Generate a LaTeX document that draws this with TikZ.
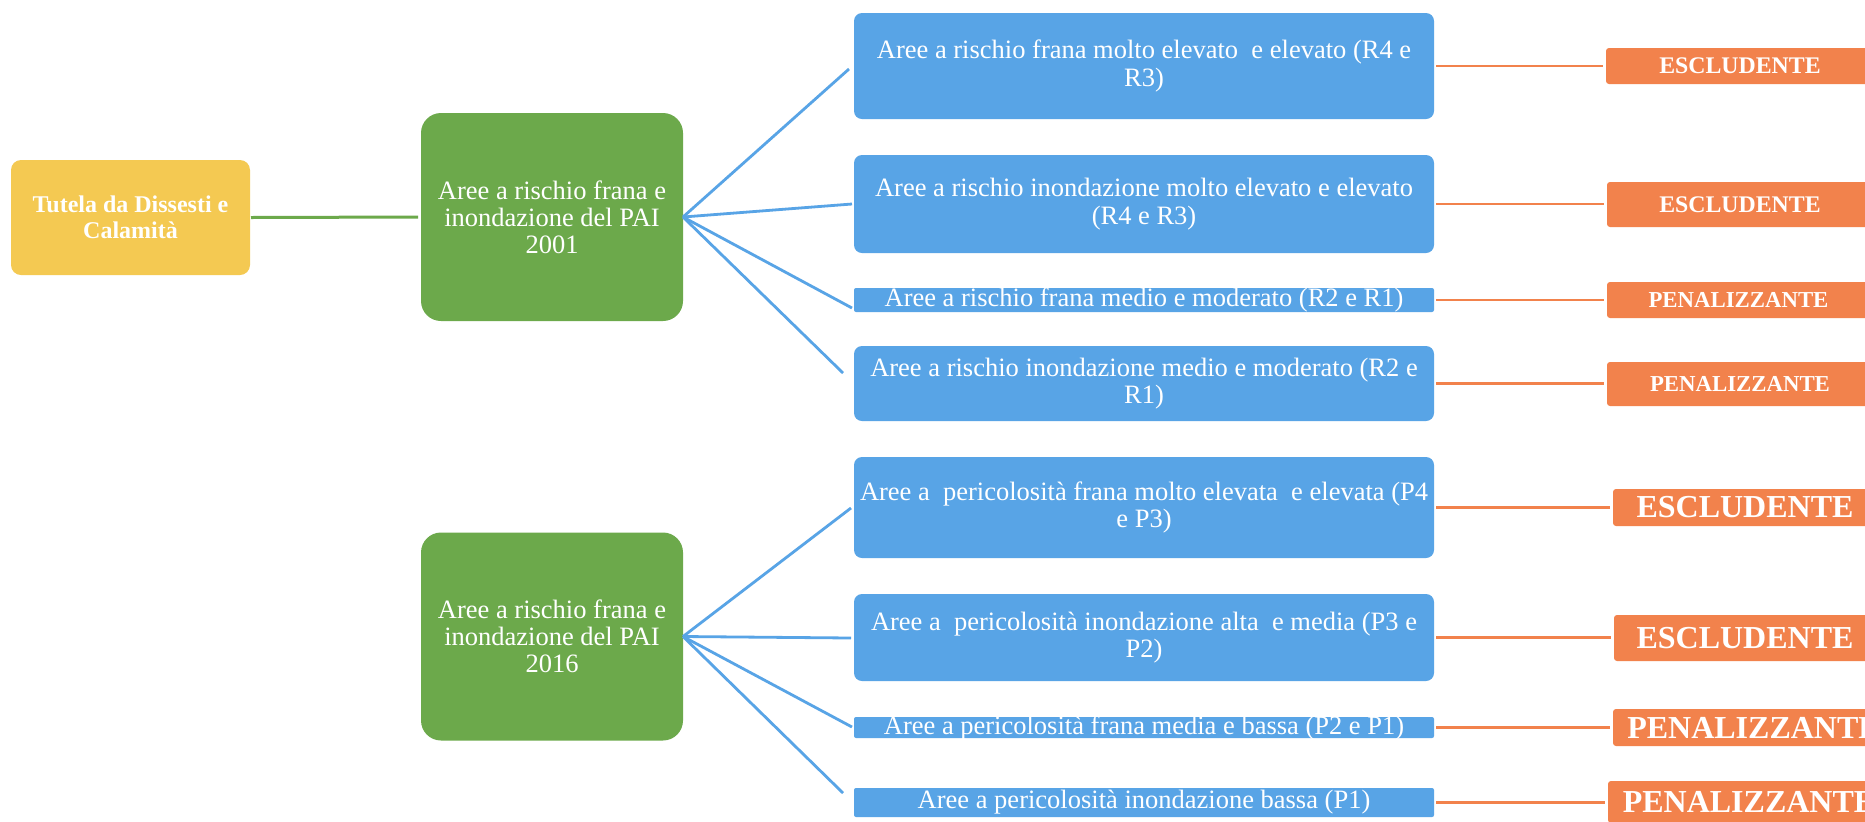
\documentclass[tikz,border=0pt]{standalone}
\usepackage{fontspec}
\setmainfont{Liberation Serif}
\definecolor{cyel}{HTML}{F4C952}
\definecolor{cgreen}{HTML}{6CA94B}
\definecolor{cblue}{HTML}{58A4E6}
\definecolor{corange}{HTML}{F2824C}
\begin{document}
\begin{tikzpicture}[x=0.5pt,y=-0.5pt,
  box/.style={inner sep=0pt, outer sep=0pt},
  ybox/.style={box, fill=cyel, rounded corners=5pt, minimum width=119.5pt, minimum height=57.5pt},
  gbox/.style={box, fill=cgreen, rounded corners=10pt, minimum width=131pt, minimum height=104pt},
  bbox/.style={box, fill=cblue, rounded corners=4pt, minimum width=290pt},
  bflat/.style={rounded corners=1pt},
  obox/.style={box, fill=corange, rounded corners=1.5pt},
  ytext/.style={text=white, font=\bfseries\fontsize{12pt}{12.75pt}\selectfont, align=center},
  gtext/.style={text=white, font=\fontsize{13.25pt}{13.5pt}\selectfont, align=center},
  btext/.style={text=white, font=\fontsize{13.25pt}{13.75pt}\selectfont, align=center},
  osmall/.style={text=white, font=\bfseries\fontsize{11.9pt}{12pt}\selectfont},
  omid/.style={text=white, font=\bfseries\fontsize{11.4pt}{12pt}\selectfont},
  obig/.style={text=white, font=\bfseries\fontsize{16pt}{16pt}\selectfont},
  gline/.style={draw=cgreen, line width=1.5pt},
  bline/.style={draw=cblue, line width=1.4pt},
  oline/.style={draw=corange, line width=1.3pt},
]
\useasboundingbox (0,0) rectangle (1865,821);
\clip (0,0) rectangle (1865,821);
\fill[white] (0,0) rectangle (1865,821);

% root
\node[ybox] (y) at (130.5,217.5) {};
\node[ytext] (yt) at (y) {Tutela da Dissesti e\\Calamità};

% green
\node[gbox] (g1) at (552,217) {};
\node[gtext] (g1t) at (g1) {Aree a rischio frana e\\inondazione del PAI\\2001};
\node[gbox] (g2) at (552,636.5) {};
\node[gtext] (g2t) at (g2) {Aree a rischio frana e\\inondazione del PAI\\2016};

% blue
\node[bbox, minimum height=53pt] (b1) at (1144,66) {};
\node[btext] (b1t) at (b1) {Aree a rischio frana molto elevato~ e elevato (R4 e\\R3)};
\node[bbox, minimum height=49pt] (b2) at (1144,204) {};
\node[btext] (b2t) at (b2) {Aree a rischio inondazione molto elevato e elevato\\(R4 e R3)};
\node[bbox, bflat, minimum height=12pt] (b3) at (1144,300) {};
\node[btext] (b3t) at (b3) {Aree a rischio frana medio e moderato (R2 e R1)};
\node[bbox, minimum height=37.5pt] (b4) at (1144,383.5) {};
\node[btext] (b4t) at (b4) {Aree a rischio inondazione medio e moderato (R2 e\\R1)};
\node[bbox, minimum height=50.5pt] (b5) at (1144,507.5) {};
\node[btext] (b5t) at (b5) {Aree a~ pericolosità frana molto elevata~ e elevata (P4\\e P3)};
\node[bbox, minimum height=43.5pt] (b6) at (1144,637.5) {};
\node[btext] (b6t) at (b6) {Aree a~ pericolosità inondazione alta~ e media (P3 e\\P2)};
\node[bbox, bflat, minimum height=10.5pt] (b7) at (1144,727.5) {};
\node[btext] (b7t) at (b7) {Aree a pericolosità frana media e bassa (P2 e P1)};
\node[bbox, bflat, minimum height=14.5pt] (b8) at (1144,802.5) {};
\node[btext] (b8t) at (b8) {Aree a pericolosità inondazione bassa (P1)};

% orange
\node[obox, minimum width=134pt, minimum height=18pt] (o1) at (1740,66) {};
\node[osmall] (o1t) at (o1) {ESCLUDENTE};
\node[obox, minimum width=133pt, minimum height=22.5pt] (o2) at (1740,204.5) {};
\node[osmall] (o2t) at (o2) {ESCLUDENTE};
\node[obox, minimum width=131.5pt, minimum height=18pt] (o3) at (1738.5,300) {};
\node[omid] (o3t) at (o3) {PENALIZZANTE};
\node[obox, minimum width=133pt, minimum height=22pt] (o4) at (1740,384) {};
\node[omid] (o4t) at (o4) {PENALIZZANTE};
\node[obox, minimum width=132pt, minimum height=18.5pt] (o5) at (1745,507.5) {};
\node[obig] (o5t) at (o5) {ESCLUDENTE};
\node[obox, minimum width=131pt, minimum height=23pt] (o6) at (1745,638) {};
\node[obig] (o6t) at (o6) {ESCLUDENTE};
\node[obox, minimum width=140.5pt, minimum height=18.5pt] (o7) at (1753.5,727.5) {};
\node[obig] (o7t) at (o7) {PENALIZZANTE};
\node[obox, minimum width=141pt, minimum height=21pt] (o8) at (1749,802) {};
\node[obig] (o8t) at (o8) {PENALIZZANTE};

% connector ends
\coordinate (e1) at (849,69);
\coordinate (e2) at (852,204);
\coordinate (e3) at (852,308);
\coordinate (e4) at (843,373);
\coordinate (e5) at (851,508);
\coordinate (e6) at (851,638);
\coordinate (e7) at (852,727);
\coordinate (e8) at (843,793);

% connectors
\draw[gline, shorten <=0.5pt, shorten >=1.5pt] (y.east) -- (g1.west);
\foreach \e in {e1,e2,e3,e4} \draw[bline] (g1.east) -- (\e);
\foreach \e in {e5,e6,e7,e8} \draw[bline] (g2.east) -- (\e);
\foreach \i in {1,...,8} \draw[oline, shorten <=1pt, shorten >=1.5pt] (b\i.east) -- (o\i.west |- b\i.east);
\end{tikzpicture}
\end{document}
